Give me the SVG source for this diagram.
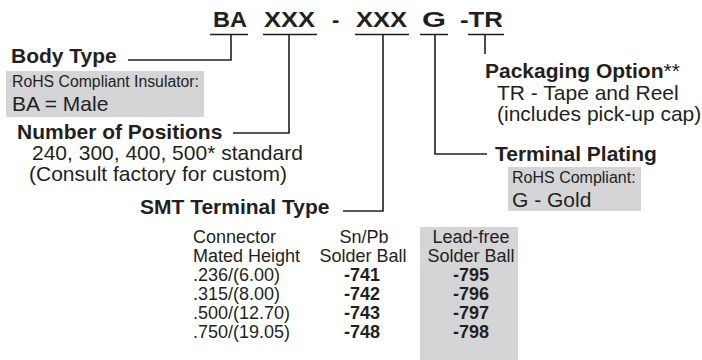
<svg xmlns="http://www.w3.org/2000/svg" width="702" height="360" viewBox="0 0 702 360">
<style>
text{font-family:"Liberation Sans",Arial,sans-serif;fill:#231f20}
.b{font-weight:bold;font-size:21px}
.r{font-size:21px}
.s{font-size:16px}
.t{font-size:18px}
.tb{font-size:18px;font-weight:bold}
.code{font-weight:bold;font-size:22px}
.m{text-anchor:middle}
.box{fill:#d5d5d7}
.ln{fill:none;stroke:#231f20;stroke-width:1.6}
</style>
<rect width="702" height="360" fill="#fff"/>
<g id="code">
<text class="code" x="213" y="27" textLength="34" lengthAdjust="spacingAndGlyphs">BA</text>
<text class="code" x="264" y="27" textLength="51" lengthAdjust="spacingAndGlyphs">XXX</text>
<text class="code" x="332" y="27">-</text>
<text class="code" x="356" y="27" textLength="51" lengthAdjust="spacingAndGlyphs">XXX</text>
<text class="code" x="422" y="27" textLength="24" lengthAdjust="spacingAndGlyphs">G</text>
<text class="code" x="460" y="27" textLength="43" lengthAdjust="spacingAndGlyphs">-TR</text>
</g>
<g id="connectors">
<path class="ln" d="M210,34.5H248M263,34.5H317M355,34.5H409M420,34.5H448M468,34.5H504"/>
<path class="ln" d="M231,34.5V60H128"/>
<path class="ln" d="M289,34.5V133H233"/>
<path class="ln" d="M383,34.5V211H343"/>
<path class="ln" d="M435,34.5V154H487"/>
<path class="ln" d="M485,34.5V54"/>
</g>
<g id="body-type">
<text class="b" x="11" y="63">Body Type</text>
<rect class="box" x="6" y="71" width="198" height="46"/>
<text class="s" x="12" y="87" textLength="187" lengthAdjust="spacingAndGlyphs">RoHS Compliant Insulator:</text>
<text class="r" x="12" y="111">BA = Male</text>
</g>
<g id="number-of-positions">
<text class="b" x="17" y="139">Number of Positions</text>
<text class="r" x="32" y="160">240, 300, 400, 500* standard</text>
<text class="r" x="29" y="181">(Consult factory for custom)</text>
</g>
<g id="packaging-option">
<text class="b" x="485" y="78">Packaging Option<tspan style="font-weight:normal">**</tspan></text>
<text class="r" x="497" y="100">TR - Tape and Reel</text>
<text class="r" x="497" y="121">(includes pick-up cap)</text>
</g>
<g id="terminal-plating">
<text class="b" x="495" y="161">Terminal Plating</text>
<rect class="box" x="508" y="167" width="133" height="44"/>
<text class="s" x="512" y="183">RoHS Compliant:</text>
<text class="r" x="512" y="207">G - Gold</text>
</g>
<g id="smt-terminal-type">
<text class="b" x="140" y="214">SMT Terminal Type</text>
<rect class="box" x="420" y="227" width="98" height="133"/>
<text class="t" x="193" y="243">Connector</text>
<text class="t" x="193" y="262">Mated Height</text>
<text class="t" x="193" y="281">.236/(6.00)</text>
<text class="t" x="193" y="300">.315/(8.00)</text>
<text class="t" x="193" y="319">.500/(12.70)</text>
<text class="t" x="193" y="338">.750/(19.05)</text>
<text class="t m" x="364" y="243">Sn/Pb</text>
<text class="t m" x="363" y="262">Solder Ball</text>
<text class="tb m" x="362" y="281">-741</text>
<text class="tb m" x="362" y="300">-742</text>
<text class="tb m" x="362" y="319">-743</text>
<text class="tb m" x="362" y="338">-748</text>
<text class="t m" x="471" y="243">Lead-free</text>
<text class="t m" x="471" y="262">Solder Ball</text>
<text class="tb m" x="471" y="281">-795</text>
<text class="tb m" x="471" y="300">-796</text>
<text class="tb m" x="471" y="319">-797</text>
<text class="tb m" x="471" y="338">-798</text>
</g>
</svg>
